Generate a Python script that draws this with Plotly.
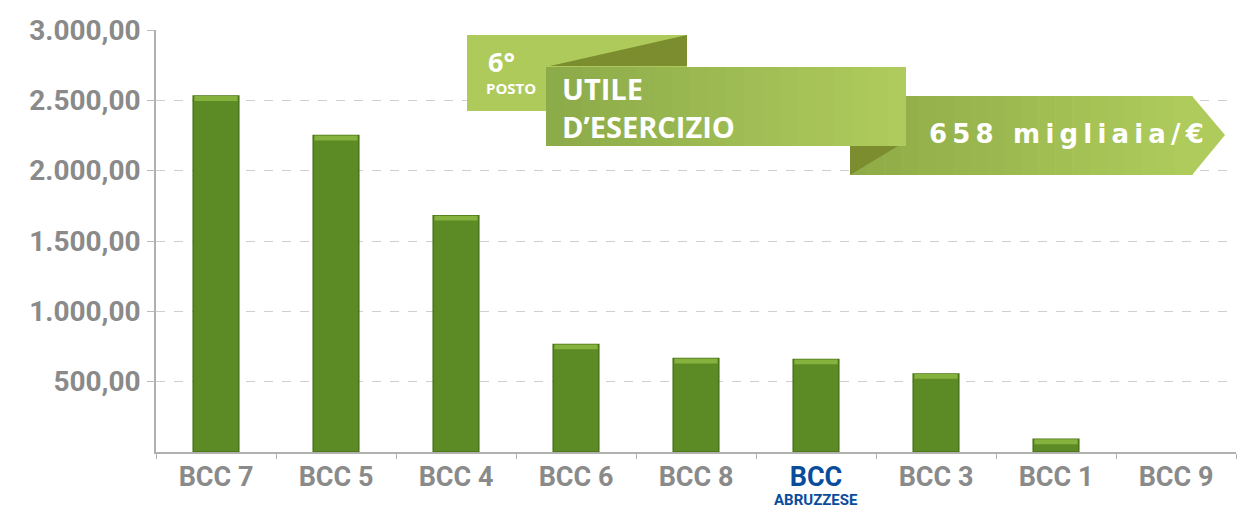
import plotly.graph_objects as go

categories = ["BCC 7", "BCC 5", "BCC 4", "BCC 6", "BCC 8", "BCC ABRUZZESE", "BCC 3", "BCC 1", "BCC 9"]
values = [2530, 2250, 1680, 765, 665, 658, 555, 90, 0]
tick_labels = ["BCC 7", "BCC 5", "BCC 4", "BCC 6", "BCC 8",
               "<span style='color:#0a4c9c'>BCC</span>",
               "BCC 3", "BCC 1", "BCC 9"]
highlight_sub = "ABRUZZESE"
y_ticks = [500, 1000, 1500, 2000, 2500, 3000]

W, H = 1249, 508
L, R, T, B = 156, 1236, 30, 452


def px(x):
    return (x - L) / (R - L)


def py(y):
    return (B - y) / (B - T)


def poly(points):
    return "M " + " L ".join(f"{px(x):.5f},{py(y):.5f}" for x, y in points) + " Z"


def mix(c1, c2, t):
    a = [int(c1[i:i + 2], 16) for i in (1, 3, 5)]
    b = [int(c2[i:i + 2], 16) for i in (1, 3, 5)]
    return "#" + "".join(f"{round(a[k] + (b[k] - a[k]) * t):02x}" for k in range(3))


def shp(points, color):
    return dict(type="path", path=poly(points), fillcolor=color, line=dict(width=0),
                xref="paper", yref="paper", layer="above")


cap = 35
fig = go.Figure()
fig.add_trace(go.Bar(
    x=categories, y=values, width=0.38,
    marker=dict(color="#5c8b25",
                line=dict(color="#4a7319", width=[1.5 if v > 0 else 0 for v in values])),
    hoverinfo="skip", showlegend=False,
))
fig.add_trace(go.Bar(
    x=categories, y=[min(cap, v) for v in values],
    base=[v - min(cap, v) for v in values], width=0.36,
    marker=dict(color="#84b23d", line=dict(width=0)),
    hoverinfo="skip", showlegend=False,
))

shapes = []
# small "6° posto" box
shapes.append(shp([(467, 35), (687, 35), (687, 111), (467, 111)], "#aeca5b"))
shapes.append(shp([(550, 66), (687, 35), (687, 66)], "#7b8d2e"))
# third banner with arrow (gradient strips)
n = 20
x0, x1 = 850, 1192
for i in range(n):
    a = x0 + (x1 - x0) * i / n
    b = x0 + (x1 - x0) * (i + 1) / n + 0.6
    shapes.append(shp([(a, 96), (b, 96), (b, 175), (a, 175)], mix("#8eab47", "#aecb5c", i / (n - 1))))
shapes.append(shp([(1192, 96), (1225, 135), (1192, 175)], "#aecb5c"))
shapes.append(shp([(850, 146), (898, 146), (850, 175)], "#7b8d2e"))
# main banner (gradient strips)
x0, x1 = 546, 906
for i in range(n):
    a = x0 + (x1 - x0) * i / n
    b = x0 + (x1 - x0) * (i + 1) / n + (0.6 if i < n - 1 else 0)
    shapes.append(shp([(a, 67), (b, 67), (b, 146), (a, 146)], mix("#8cab49", "#afcb5d", i / (n - 1))))

ann = []
bf = "'Open Sans', sans-serif"
ann.append(dict(x=px(486), y=py(61), xref="paper", yref="paper", xanchor="left", yanchor="middle",
                text="6°", showarrow=False, height=30,
                font=dict(family=bf, size=27, color="white", weight="bold")))
ann.append(dict(x=px(484), y=py(88), xref="paper", yref="paper", xanchor="left", yanchor="middle",
                text="POSTO", showarrow=False, height=18,
                font=dict(family=bf, size=15, color="white", weight="bold")))
ann.append(dict(x=px(560), y=py(107), xref="paper", yref="paper", xanchor="left", yanchor="middle",
                align="left", text="UTILE<br>D’ESERCIZIO", showarrow=False,
                font=dict(family=bf, size=29, color="white", weight="bold")))
spaced = "\u2009".join("658 migliaia/€")
ann.append(dict(x=px(1066), y=py(134), xref="paper", yref="paper", xanchor="center", yanchor="middle",
                text=spaced, showarrow=False,
                font=dict(family="'DejaVu Sans', sans-serif", size=26, color="white", weight="bold")))
# second line of the highlighted category label
ann.append(dict(x="BCC ABRUZZESE", xref="x", y=py(500), yref="paper", xanchor="center", yanchor="middle",
                text=highlight_sub, showarrow=False, height=16,
                font=dict(family="Roboto, sans-serif", size=15, color="#0a4c9c", weight="bold")))

fig.update_layout(
    width=W, height=H,
    margin=dict(l=L, r=W - R, t=T, b=H - B, autoexpand=False),
    paper_bgcolor="white", plot_bgcolor="white",
    barmode="overlay",
    separators=",.",
    shapes=shapes, annotations=ann,
    font=dict(family="Roboto, 'Open Sans', sans-serif", color="#8a8a8a"),
)
fig.update_xaxes(
    tickvals=categories, ticktext=tick_labels, tickson="boundaries",
    ticks="outside", ticklen=5, tickcolor="#b0b0b0",
    showline=True, linecolor="#b0b0b0", linewidth=1.5,
    showgrid=False, automargin=False,
    tickfont=dict(family="Roboto, sans-serif", size=27, color="#8a8a8a", weight="bold"),
)
fig.update_yaxes(
    range=[0, 3000], tickvals=y_ticks, tickformat=",.2f",
    ticks="outside", ticklen=7, tickcolor="#bbbbbb",
    showline=True, linecolor="#b0b0b0", linewidth=1.5,
    showgrid=True, gridcolor="#cfcfcf", griddash="dash", gridwidth=1,
    zeroline=False, automargin=False, ticklabelstandoff=1,
    tickfont=dict(family="Roboto, sans-serif", size=28, color="#8a8a8a", weight="bold"),
)

fig.write_html("out.html", config={"displayModeBar": False},
               post_script="document.body.style.margin='0';document.body.style.overflow='hidden';")
